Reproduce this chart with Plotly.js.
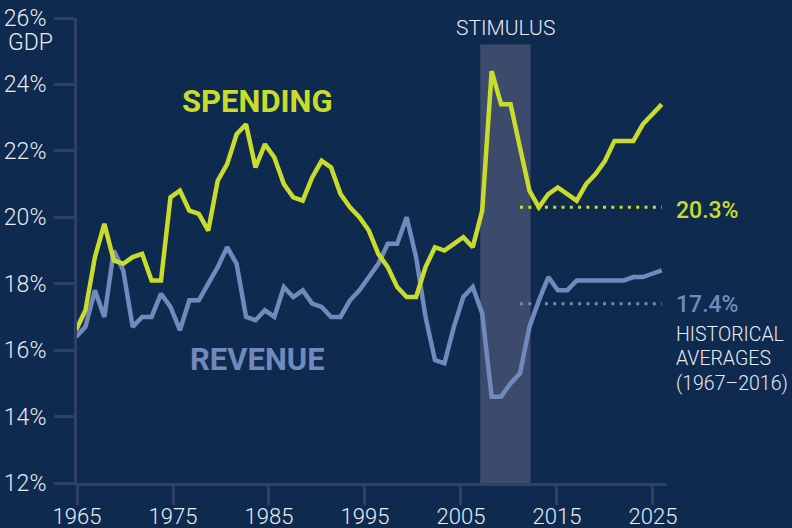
<!DOCTYPE html>
<html><head><meta charset="utf-8">
<script src="https://cdn.plot.ly/plotly-3.0.1.min.js"></script>
<style>html,body{margin:0;padding:0;background:#0f2a4f;}</style>
</head><body><div id="chart" style="width:792px;height:528px;"></div>
<script>
const years = [1965,1966,1967,1968,1969,1970,1971,1972,1973,1974,1975,1976,1977,1978,1979,1980,1981,1982,1983,1984,1985,1986,1987,1988,1989,1990,1991,1992,1993,1994,1995,1996,1997,1998,1999,2000,2001,2002,2003,2004,2005,2006,2007,2008,2009,2010,2011,2012,2013,2014,2015,2016,2017,2018,2019,2020,2021,2022,2023,2024,2025,2026,2027];
const spending = [16.6,17.2,18.8,19.8,18.7,18.6,18.8,18.9,18.1,18.1,20.6,20.8,20.2,20.1,19.6,21.1,21.6,22.5,22.8,21.5,22.2,21.8,21.0,20.6,20.5,21.2,21.7,21.5,20.7,20.3,20.0,19.6,18.9,18.5,17.9,17.6,17.6,18.5,19.1,19.0,19.2,19.4,19.1,20.2,24.4,23.4,23.4,22.1,20.8,20.3,20.7,20.9,20.7,20.5,21.0,21.3,21.7,22.3,22.3,22.3,22.8,23.1,23.4];
const revenue = [16.4,16.7,17.8,17.0,19.0,18.4,16.7,17.0,17.0,17.7,17.3,16.6,17.5,17.5,18.0,18.5,19.1,18.6,17.0,16.9,17.2,17.0,17.9,17.6,17.8,17.4,17.3,17.0,17.0,17.5,17.8,18.2,18.6,19.2,19.2,20.0,18.8,17.0,15.7,15.6,16.7,17.6,17.9,17.1,14.6,14.6,15.0,15.3,16.7,17.5,18.2,17.8,17.8,18.1,18.1,18.1,18.1,18.1,18.1,18.2,18.2,18.3,18.4];
const avgYears = [2012, 2027];
const avgSpending = 20.3;
const avgRevenue = 17.4;
const stimulusYears = [2007, 2012.25];
const xTicks = [1965,1975,1985,1995,2005,2015,2025];
const yTicks = [12,14,16,18,20,22,24,26];
const yTickLabels = ['12%','14%','16%','18%','20%','22%','24%','26%'];

const GREEN = '#c9dc2b', BLUE = '#7189bc', BG = '#0f2a4f', AXIS = '#2f4064', TXT = '#e8ebf1';
const SANS = 'Roboto, sans-serif';
const PX = 590; // plot width in px, for paper-relative label placement

const traces = [
  {x: avgYears, y: [avgSpending, avgSpending], xaxis: 'x2', mode: 'lines', line: {color: GREEN, width: 3, dash: '3px,5.3px'}, hoverinfo: 'skip'},
  {x: avgYears, y: [avgRevenue, avgRevenue], xaxis: 'x2', mode: 'lines', line: {color: BLUE, width: 3, dash: '3px,5.3px'}, hoverinfo: 'skip'},
  {x: years, y: revenue, xaxis: 'x2', mode: 'lines', line: {color: BLUE, width: 4.5}},
  {x: years, y: spending, xaxis: 'x2', mode: 'lines', line: {color: GREEN, width: 4.5}}
];

const sideX = 600 / PX;
const layout = {
  width: 792, height: 528,
  paper_bgcolor: BG, plot_bgcolor: BG,
  margin: {l: 77, r: 125, t: 18, b: 45, pad: 0},
  showlegend: false,
  xaxis: {range: [1965, 2026.46], tickvals: xTicks, showgrid: false, zeroline: false,
    showline: true, linecolor: AXIS, linewidth: 3, ticks: 'outside', ticklen: 19, tickwidth: 3, tickcolor: AXIS,
    ticklabelstandoff: -7,
    tickfont: {family: SANS, size: 22, color: TXT, weight: 300}, fixedrange: true},
  xaxis2: {range: [1965.106, 2027.56], overlaying: 'x', visible: false, fixedrange: true},
  yaxis: {range: [12, 26], tickvals: yTicks, ticktext: yTickLabels, showgrid: false, zeroline: false,
    showline: true, linecolor: AXIS, linewidth: 3, ticks: 'outside', ticklen: 20, tickwidth: 3, tickcolor: AXIS,
    ticklabelstandoff: 3,
    tickfont: {family: SANS, size: 23, color: TXT, weight: 300}, fixedrange: true},
  shapes: [{type: 'rect', xref: 'x', yref: 'y', x0: stimulusYears[0], x1: stimulusYears[1], y0: 12, y1: 25.2,
    fillcolor: '#3c4a6b', line: {width: 0}, layer: 'below'}],
  annotations: [
    {xref: 'x', yref: 'y', x: (stimulusYears[0] + stimulusYears[1]) / 2, y: 25.7, text: 'STIMULUS', showarrow: false,
      font: {family: SANS, size: 21, color: TXT, weight: 300}, xanchor: 'center', yanchor: 'middle'},
    {xref: 'paper', yref: 'paper', x: -71 / PX, y: (483 - 43) / 465, text: 'GDP', showarrow: false,
      font: {family: SANS, size: 23, color: TXT, weight: 300}, xanchor: 'left', yanchor: 'middle'},
    {xref: 'x', yref: 'y', x: 1983.75, y: 23.48, text: '<b>SPENDING</b>', showarrow: false,
      font: {family: SANS, size: 31, color: GREEN}, xanchor: 'center', yanchor: 'middle'},
    {xref: 'x', yref: 'y', x: 1983.8, y: 15.73, text: '<b>REVENUE</b>', showarrow: false,
      font: {family: SANS, size: 31, color: BLUE}, xanchor: 'center', yanchor: 'middle'},
    {xref: 'paper', yref: 'y', x: 597 / PX, y: 20.2, text: avgSpending.toFixed(1) + '%', showarrow: false,
      font: {family: SANS, size: 23, color: GREEN, weight: 500}, xanchor: 'left', yanchor: 'middle'},
    {xref: 'paper', yref: 'y', x: 597 / PX, y: 17.36, text: avgRevenue.toFixed(1) + '%', showarrow: false,
      font: {family: SANS, size: 23, color: BLUE, weight: 500}, xanchor: 'left', yanchor: 'middle'},
    {xref: 'paper', yref: 'y', x: 597 / PX, y: 16.47, text: 'HISTORICAL', showarrow: false,
      font: {family: SANS, size: 19.5, color: TXT, weight: 300}, xanchor: 'left', yanchor: 'middle'},
    {xref: 'paper', yref: 'y', x: 597 / PX, y: 15.74, text: 'AVERAGES', showarrow: false,
      font: {family: SANS, size: 19.5, color: TXT, weight: 300}, xanchor: 'left', yanchor: 'middle'},
    {xref: 'paper', yref: 'y', x: 597 / PX, y: 15.01, text: '(1967–2016)', showarrow: false,
      font: {family: SANS, size: 19.5, color: TXT, weight: 300}, xanchor: 'left', yanchor: 'middle'}
  ]
};

Plotly.newPlot('chart', traces, layout, {displayModeBar: false, staticPlot: true});
</script>
</body></html>
